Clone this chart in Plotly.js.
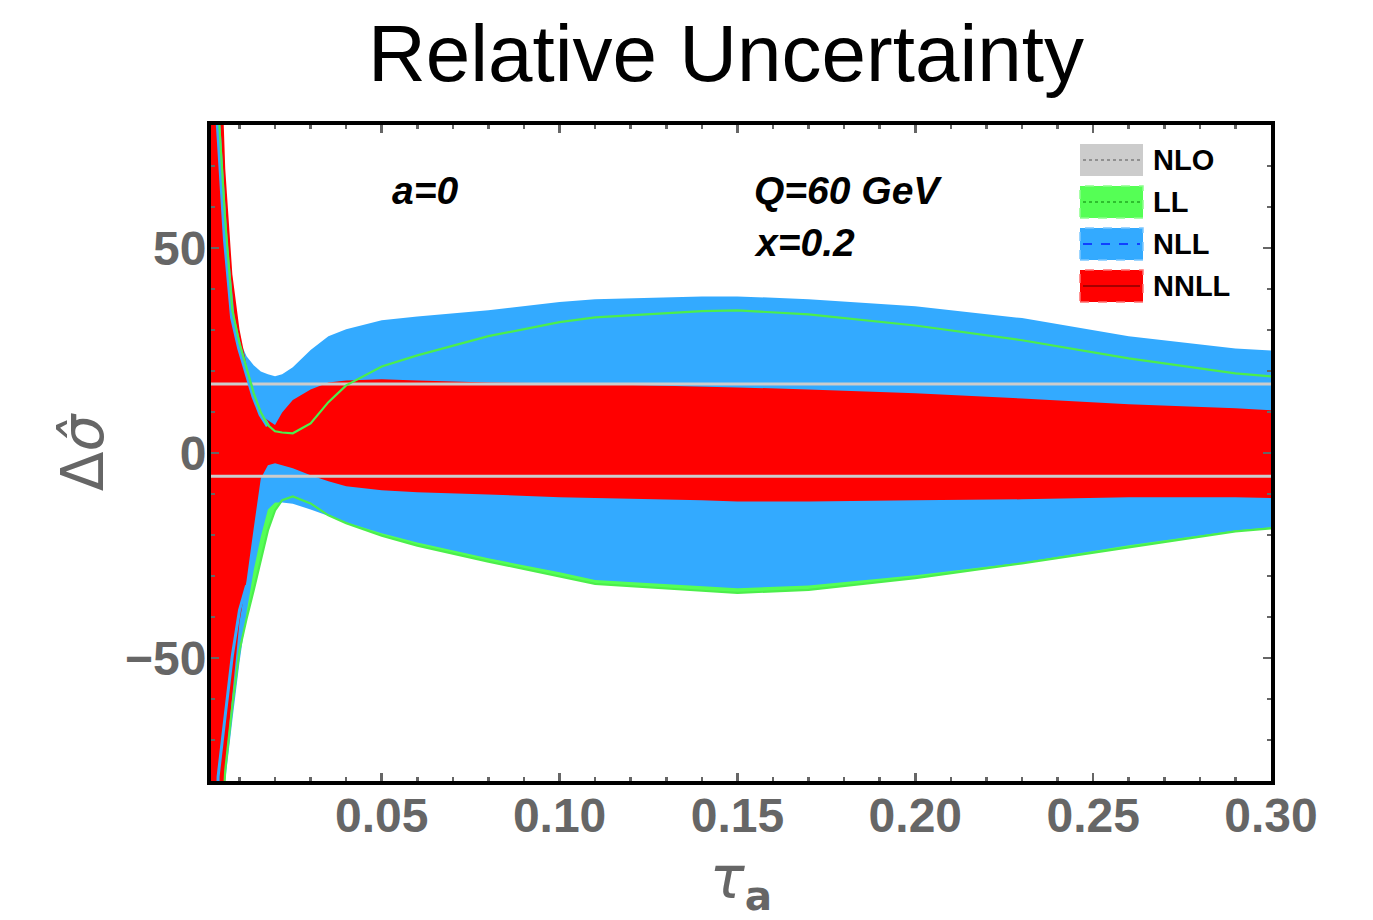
<!DOCTYPE html>
<html><head><meta charset="utf-8">
<script src="https://cdn.plot.ly/plotly-3.0.1.min.js"></script>
<style>html,body{margin:0;padding:0;background:#fff}</style>
</head><body>
<div id="chart" style="width:1373px;height:920px"></div>
<script>
// ---- data ----
const tau = [0.002, 0.004, 0.006, 0.008, 0.01, 0.012, 0.014, 0.016, 0.018, 0.02, 0.022, 0.025, 0.03, 0.035, 0.04, 0.05, 0.06, 0.08, 0.1, 0.11, 0.14, 0.15, 0.17, 0.2, 0.23, 0.26, 0.29, 0.3];
const nnllUp = [150, 120, 69.4, 43.6, 30.2, 21.4, 14.3, 9.4, 8.0, 6.8, 9.9, 12.9, 15.5, 17.2, 17.7, 18.0, 17.7, 17.2, 17.0, 16.8, 16.3, 16.0, 15.5, 14.6, 13.3, 11.9, 10.9, 10.4];
const nnllLo = [-150, -120, -76.7, -59.1, -41.3, -31.1, -18.4, -6.2, -3.0, -2.5, -3.0, -3.7, -5.4, -6.9, -8.1, -9.1, -9.6, -10.1, -10.8, -11.0, -11.5, -11.8, -11.8, -11.5, -11.3, -10.8, -10.8, -11.0];
const nllUp = [150, 110, 65, 40, 27.5, 23.6, 21.4, 19.9, 19.2, 18.7, 19.2, 20.9, 25.1, 28.5, 30.2, 32.4, 33.3, 34.8, 36.8, 37.5, 38.2, 38.2, 37.5, 35.8, 32.9, 28.5, 25.5, 25.0];
const nllLo = [-150, -110, -80, -65.2, -51.1, -38.9, -28.6, -20.4, -13.8, -12.1, -12.1, -12.4, -13.8, -15.3, -16.9, -19.6, -21.8, -25.7, -29.1, -31.0, -32.5, -33.0, -32.3, -29.8, -26.7, -22.5, -18.9, -18.1];
const llUp = [150, 84.8, 56.7, 34.8, 26.8, 20.7, 14.6, 9.9, 6.8, 5.3, 5.0, 4.8, 7.2, 12.4, 16.5, 21.1, 23.8, 28.5, 31.9, 33.1, 34.6, 34.8, 33.8, 31.1, 27.5, 23.1, 19.4, 18.7];
const llLo = [-150, -110, -77.4, -61.6, -48.2, -40.4, -33.5, -26.2, -18.9, -14.0, -11.5, -10.6, -12.3, -15.2, -17.1, -20.2, -22.6, -26.5, -30.2, -31.9, -33.6, -34.1, -33.4, -30.5, -26.9, -23.0, -19.1, -18.4];
// NLL scale-variation curves visible at small tau
const nllUpEdgeTau = [0.002, 0.004, 0.006, 0.008, 0.01, 0.012, 0.014, 0.016, 0.018];
const nllUpEdge = [150, 80, 52, 33, 25.5, 19.5, 13.8, 9.4, 6.6];
const nllLoEdgeTau = [0.002, 0.004, 0.006, 0.008, 0.01, 0.012];
const nllLoEdge = [-150, -78.9, -64, -49.4, -38.4, -32.3];
// NLO band edges
const nloTau = [0.002, 0.3];
const nloUp = [16.8, 16.8];
const nloLo = [-5.7, -5.7];
const xTickVals = [0.05, 0.10, 0.15, 0.20, 0.25, 0.30];
const xTickText = ['0.05', '0.10', '0.15', '0.20', '0.25', '0.30'];
const yTickVals = [-50, 0, 50];
const yTickText = ['\u221250', '0', '50'];
const legendNames = ['NLO', 'LL', 'NLL', 'NNLL'];

// ---- styling ----
const C = {red:'#ff0000', blue:'#33aaff', green:'#55ff55', greenLine:'#4cee4c', gray:'#cccccc', tick:'#666666'};
const W = 1373, H = 920, ML = 211, MR = 102, MT = 125, MB = 139;
const PW = W - ML - MR, PH = H - MT - MB;
const pxX = p => (p - ML) / PW;
const pxY = p => (H - MB - p) / PH;

function band(up, lo, color, name) {
  return {type:'scatter', mode:'lines', name,
    x: tau.concat(tau.slice().reverse()),
    y: up.concat(lo.slice().reverse()),
    fill:'toself', fillcolor: color, line:{width:0, color}, hoverinfo:'skip'};
}
function line(x, y, color, width, name) {
  return {type:'scatter', mode:'lines', name, x, y, line:{color, width}, hoverinfo:'skip'};
}

const traces = [
  band(llUp, llLo, C.green, 'LL'),
  band(nllUp, nllLo, C.blue, 'NLL'),
  band(nnllUp, nnllLo, C.red, 'NNLL'),
  line(nloTau, nloUp, C.gray, 3, 'NLO up'),
  line(nloTau, nloLo, C.gray, 3, 'NLO lo'),
  line(nllUpEdgeTau, nllUpEdge, C.blue, 4.5, 'NLL edge up'),
  line(nllLoEdgeTau, nllLoEdge, C.blue, 3, 'NLL edge lo'),
  line(tau, llUp, C.greenLine, 2.2, 'LL up'),
  line(tau, llLo, C.greenLine, 2.2, 'LL lo')
];

// legend drawn with shapes + annotations
const sw = {x0: 1080, x1: 1143, h: 32};
const rowsY = [160, 202, 244, 286];
const swFill = [C.gray, C.green, C.blue, C.red];
const swBorder = [null, '#8cff8c', '#7cc8ff', '#ff7070'];
const midLine = [
  {color:'#555555', width:1.2, dash:'dot'},
  {color:'#22aa22', width:1.5, dash:'dot'},
  {color:'#1040ff', width:2, dash:'dash'},
  {color:'#880000', width:1.3, dash:'solid'}
];
const shapes = [];
const annotations = [];
rowsY.forEach((cy, i) => {
  shapes.push({type:'rect', xref:'paper', yref:'paper',
    x0: pxX(sw.x0), x1: pxX(sw.x1), y0: pxY(cy + sw.h/2), y1: pxY(cy - sw.h/2),
    fillcolor: swFill[i], line: swBorder[i] ? {color: swBorder[i], width:1.5, dash:'dash'} : {width:0}});
  shapes.push({type:'line', xref:'paper', yref:'paper',
    x0: pxX(sw.x0 + 3), x1: pxX(sw.x1 - 3), y0: pxY(cy), y1: pxY(cy), line: midLine[i]});
  annotations.push({xref:'paper', yref:'paper', x: pxX(1151), y: pxY(cy), xanchor:'left', yanchor:'middle',
    text: legendNames[i], showarrow:false,
    font:{family:'Liberation Sans, Arial, sans-serif', size:29, color:'#000', weight:'bold'}});
});
const labFont = {family:'Liberation Sans, Arial, sans-serif', size:39, color:'#000', weight:'bold', style:'italic'};
annotations.push({xref:'paper', yref:'paper', x: pxX(425), y: pxY(190), xanchor:'center', yanchor:'middle', text:'a=0', showarrow:false, font: labFont});
annotations.push({xref:'paper', yref:'paper', x: pxX(752), y: pxY(190), xanchor:'left', yanchor:'middle', text:'Q=60 GeV', showarrow:false, font: labFont});
annotations.push({xref:'paper', yref:'paper', x: pxX(752), y: pxY(242), xanchor:'left', yanchor:'middle', text:'x=0.2', showarrow:false, font: labFont});

const tickFont = {family:'Liberation Sans, Arial, sans-serif', size:48, color:C.tick, weight:'bold'};
const layout = {
  width: W, height: H,
  margin: {l: ML, r: MR, t: MT, b: MB},
  paper_bgcolor:'#ffffff', plot_bgcolor:'#ffffff',
  showlegend: false,
  title: {text:'Relative Uncertainty', xref:'container', yref:'container', x: 726/W, y: 1 - 53/H,
    xanchor:'center', yanchor:'middle',
    font:{family:'Liberation Sans, Arial, sans-serif', size:80, color:'#000'}},
  xaxis: {range:[0.002, 0.3], tickvals: xTickVals, ticktext: xTickText,
    ticks:'inside', ticklen:8, tickwidth:2.5, tickcolor:C.tick,
    minor:{dtick:0.01, tick0:0, ticks:'inside', ticklen:4, tickwidth:2.5, tickcolor:C.tick},
    showline:true, linecolor:'#000', linewidth:4, mirror:'allticks',
    showgrid:false, zeroline:false, tickfont: tickFont, ticklabelstandoff: -11,
    title:{text:'<i>τ</i><sub><b>a</b></sub>', standoff: 22,
      font:{family:'DejaVu Sans, Liberation Sans, sans-serif', size:58, color:C.tick}}},
  yaxis: {range:[-80, 80], tickvals: yTickVals, ticktext: yTickText,
    ticks:'inside', ticklen:8, tickwidth:2.5, tickcolor:C.tick,
    minor:{dtick:10, tick0:0, ticks:'inside', ticklen:4, tickwidth:2.5, tickcolor:C.tick},
    showline:true, linecolor:'#000', linewidth:4, mirror:'allticks',
    showgrid:false, zeroline:false, tickfont: tickFont, ticklabelstandoff: -9,
    title:{text:'Δ<i>σ̂</i>', standoff: 4,
      font:{family:'DejaVu Sans, Liberation Sans, sans-serif', size:58, color:C.tick}}},
  shapes, annotations
};
Plotly.newPlot('chart', traces, layout, {staticPlot:true, displayModeBar:false});
</script>
</body></html>
